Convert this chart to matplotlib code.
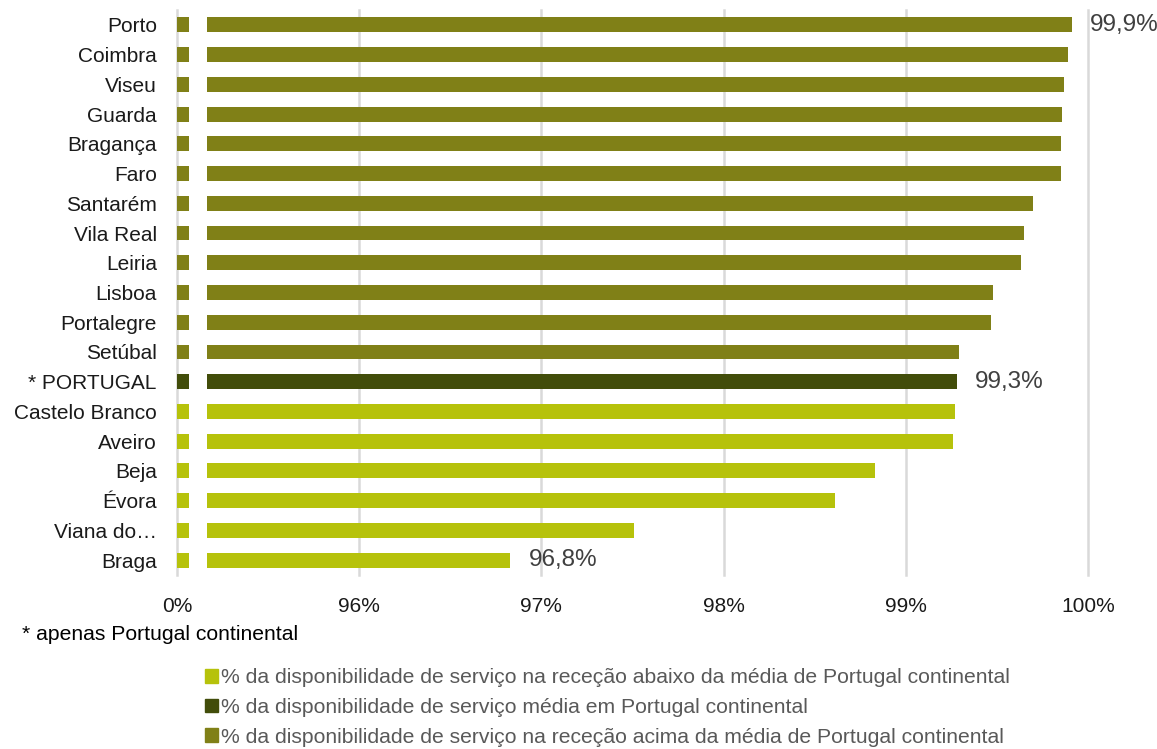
import numpy as np
import matplotlib

matplotlib.use("Agg")
import matplotlib.pyplot as plt
from matplotlib.patches import Patch

plt.rcParams["font.family"] = ["Liberation Sans", "DejaVu Sans"]

# data (top to bottom)
distritos = ["Porto", "Coimbra", "Viseu", "Guarda", "Bragança", "Faro", "Santarém",
             "Vila Real", "Leiria", "Lisboa", "Portalegre", "Setúbal", "* PORTUGAL",
             "Castelo Branco", "Aveiro", "Beja", "Évora", "Viana do…", "Braga"]
disponibilidade = [99.91, 99.89, 99.87, 99.86, 99.85, 99.85, 99.70,
                   99.65, 99.63, 99.48, 99.47, 99.29, 99.28,
                   99.27, 99.26, 98.83, 98.61, 97.51, 96.83]
rotulos = {"Porto": "99,9%", "* PORTUGAL": "99,3%", "Braga": "96,8%"}
xticks = [95, 96, 97, 98, 99, 100]
xtick_labels = ["0%", "96%", "97%", "98%", "99%", "100%"]
legenda = [
    "% da disponibilidade de serviço na receção abaixo da média de Portugal continental",
    "% da disponibilidade de serviço média em Portugal continental",
    "% da disponibilidade de serviço na receção acima da média de Portugal continental",
]

COR_ABAIXO = "#b6c20b"
COR_MEDIA = "#424d0a"
COR_ACIMA = "#808017"

X0 = 95.0          # where "0%" sits on the broken axis
BREAK_LO = 95.066  # end of the stub
BREAK_HI = 95.165  # start of the main bar

i_pt = distritos.index("* PORTUGAL")
cores = [COR_ACIMA if i < i_pt else COR_MEDIA if i == i_pt else COR_ABAIXO
         for i in range(len(distritos))]

fig = plt.figure(figsize=(11.57, 7.49), dpi=100)
ax = fig.add_axes([177 / 1157, (749 - 575) / 749, (1088 - 177) / 1157, 565 / 749])

y = np.arange(len(distritos))
vals = np.array(disponibilidade)
ax.barh(y, BREAK_LO - X0, left=X0, height=0.5, color=cores, zorder=3)
ax.barh(y, vals - BREAK_HI, left=BREAK_HI, height=0.5, color=cores, zorder=3)

for yi, (nome, v) in enumerate(zip(distritos, vals)):
    if nome in rotulos:
        ax.annotate(rotulos[nome], (v, yi), xytext=(13, 0), textcoords="offset points",
                    ha="left", va="center", fontsize=17.5, color="#404040",
                    annotation_clip=False)

ax.set_xlim(X0, 100)
ax.set_ylim(len(distritos) - 0.5, -0.5)
ax.set_xticks(xticks)
ax.set_xticklabels(xtick_labels, fontsize=15, color="#1a1a1a")
ax.set_yticks(y)
ax.set_yticklabels(distritos, fontsize=15, color="#1a1a1a")
ax.tick_params(axis="both", length=0)
ax.tick_params(axis="x", pad=16)
ax.tick_params(axis="y", pad=14.5)
ax.grid(axis="x", color="#d9d9d9", linewidth=1.8, zorder=0)
for gl in ax.get_xgridlines():
    gl.set_clip_on(False)
for s in ax.spines.values():
    s.set_visible(False)

fig.text(22 / 1157, 1 - 634 / 749, "* apenas Portugal continental", fontsize=15.2,
         color="#000000", ha="left", va="center")

handles = [Patch(color=c) for c in (COR_ABAIXO, COR_MEDIA, COR_ACIMA)]
fig.legend(handles, legenda, loc="upper left", bbox_to_anchor=(197 / 1157, 1 - 660 / 749),
           frameon=False, fontsize=15.2, labelcolor="#595959", handlelength=0.6,
           handleheight=0.6, handletextpad=0.15, labelspacing=0.5, borderaxespad=0)

fig.savefig("out.png", dpi=100, facecolor="white")
